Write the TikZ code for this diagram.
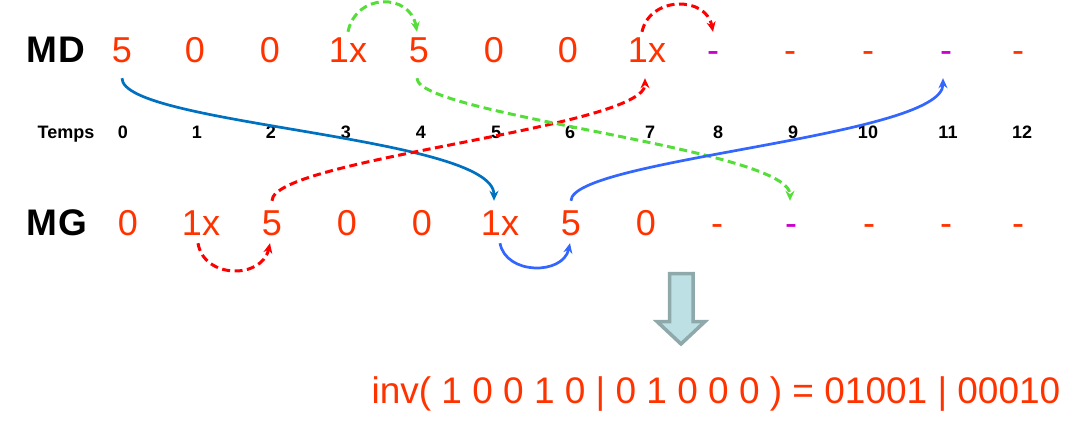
\documentclass[tikz,border=0pt]{standalone}
\usepackage{fontspec}
\setmainfont{Liberation Sans}
\usetikzlibrary{arrows.meta, positioning}

\definecolor{digit}{HTML}{FF3300}
\definecolor{mag}{HTML}{CC00CC}
\definecolor{redarr}{HTML}{FF0000}
\definecolor{greenarr}{HTML}{55DD3A}
\definecolor{darkblue}{HTML}{0070C0}
\definecolor{lightblue}{HTML}{3366FF}
\definecolor{arrowfill}{HTML}{BCE0E3}
\definecolor{arrowline}{HTML}{8FA8AA}

\tikzset{
    cell/.style={anchor=base, inner xsep=0pt, inner ysep=4pt, text=digit, font=\fontsize{36}{36}\selectfont},
    mdcell/.style={cell, text height=26pt, text depth=12pt},
    mgcell/.style={cell, text height=30pt, text depth=4pt},
    rowname/.style={anchor=base, inner sep=0pt, font=\fontsize{37}{37}\selectfont\bfseries},
    tick/.style={anchor=base, inner sep=0pt, font=\fontsize{18}{18}\selectfont\bfseries},
    link/.style={line width=2.7pt, -{Stealth[length=10pt, width=9pt]}},
    dashlink/.style={link, line width=3pt, dash pattern=on 8pt off 4.5pt},
    bigarrow/.style={draw=arrowline, fill=arrowfill, line width=3.5pt, miter limit=10}
}

\begin{document}
\begin{tikzpicture}[x=1pt, y=-1pt]
    \useasboundingbox (0,0) rectangle (1087,421);

    % rows
    \node[rowname] (md) at (56,62) {M\kern1pt D};
    \node[rowname] (mg) at (57,235) {M\kern1pt G};
    \node[tick] (temps) at (66,138) {Temps};

    \foreach \x/\t [count=\i from 0] in {122/5, 195/0, 270/0, 348/1x, 419/5, 494/0, 568/0, 647/1x}
        \node[mdcell] (md\i) at (\x,62) {\t};
    \foreach \x/\c [count=\i from 8] in {713/mag, 790/digit, 868/digit, 946/mag, 1018/digit}
        \node[mdcell, text=\c] (md\i) at (\x,62) {-};

    \foreach \x/\t [count=\i from 0] in {128/0, 201/1x, 272/5, 347/0, 422/0, 500/1x, 571/5, 646/0}
        \node[mgcell] (mg\i) at (\x,235) {\t};
    \foreach \x/\c [count=\i from 8] in {717/digit, 791/mag, 869/digit, 946/digit, 1018/digit}
        \node[mgcell, text=\c] (mg\i) at (\x,235) {-};

    \foreach \x [count=\i from 0] in {123,197,271,346,421,496,570,650,718,793,868,948,1022}
        \node[tick] (t\i) at (\x,138) {\i};

    % long links
    \draw[link, darkblue] (md0.south) .. controls +(0,47) and +(0,-65) .. ([xshift=-6pt]mg5.north);
    \draw[dashlink, redarr] (mg2.north) .. controls +(0,-42) and +(0,50) .. ([xshift=-2pt]md7.south);
    \draw[dashlink, greenarr] ([xshift=-2pt]md4.south) .. controls +(0,37) and +(0,-52) .. ([xshift=-1pt]mg9.north);
    \draw[link, lightblue] (mg6.north) .. controls +(0,-42) and +(0,59) .. ([xshift=-3pt]md11.south);

    % short hops
    \draw[dashlink, greenarr] (md3.north) .. controls +(8,-39) and +(-7,-39) .. ([xshift=-2pt]md4.north);
    \draw[dashlink, redarr] ([xshift=-5pt]md7.north) .. controls +(8,-36) and +(-7,-36) .. (md8.north);
    \draw[dashlink, redarr] ([xshift=-3pt]mg1.south) .. controls +(6,36) and +(-8,36) .. ([xshift=-2pt]mg2.south);
    \draw[link, lightblue] (mg5.south) .. controls +(6,32) and +(-7,32) .. ([xshift=-1pt]mg6.south);

    % result
    \draw[bigarrow] (669.5,273.5) -- (693,273.5) -- (693,321.5) -- (705,321.5) -- (681,344)
        -- (657,321.5) -- (669.5,321.5) -- cycle;
    \node[anchor=base, inner sep=0pt, text=digit, font=\fontsize{37}{37}\selectfont] (res) at (716,403)
        {inv( 1 0 0 1 0 | 0 1 0 0 0 ) = 01001 | 00010};
\end{tikzpicture}
\end{document}
